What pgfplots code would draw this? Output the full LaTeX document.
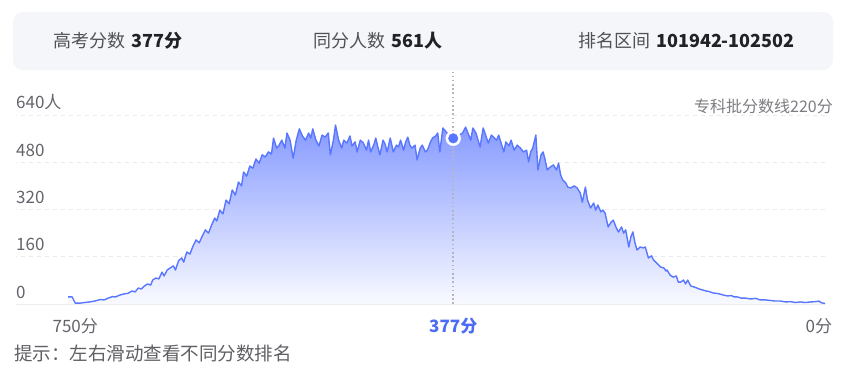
\documentclass[border=0pt]{standalone}
\usepackage{fontspec}
\setmainfont{Noto Sans CJK SC}
\usepackage{pgfplots}
\pgfplotsset{compat=1.18}
\usepackage{pgfplotstable}
\definecolor{panelbg}{RGB}{245,246,250}
\definecolor{textgray}{RGB}{80,80,86}
\definecolor{textdark}{RGB}{34,34,38}
\definecolor{tickgray}{RGB}{100,100,108}
\definecolor{notegray}{RGB}{125,125,130}
\definecolor{tipgray}{RGB}{95,95,100}
\definecolor{gridc}{RGB}{232,232,238}
\definecolor{basec}{RGB}{236,236,240}
\definecolor{lineblue}{RGB}{88,118,255}
\definecolor{filltop}{RGB}{134,154,255}
\definecolor{fillbot}{RGB}{249,250,255}
\definecolor{labelblue}{RGB}{77,108,245}
\definecolor{dotc}{RGB}{180,180,190}
\pgfplotstableread{
s v
750 24
746 24
743 3
738 3
734 5
729 7
724 10
719 15
715 14
711 20
707 25
704 24
700 30
696 34
692 36
688 44
685 41
682 54
679 51
676 61
673 68
670 64
668 81
665 88
662 85
659 108
657 95
654 115
651 122
648 129
646 115
643 146
640 156
638 142
635 176
632 169
629 196
626 217
623 207
620 230
617 251
614 240
611 267
608 291
606 281
603 318
600 305
597 352
594 339
591 386
588 369
585 413
582 400
580 447
577 433
574 467
571 460
568 491
565 477
562 505
559 498
556 515
553 508
551 562
548 528
546 535
543 555
540 528
538 579
535 555
532 494
529 555
526 593
523 569
520 555
517 579
515 562
513 593
510 555
507 535
504 572
501 565
498 579
496 505
493 555
491 606
488 555
485 528
483 555
480 545
477 569
475 535
472 549
470 515
467 555
464 545
461 521
459 555
457 515
454 538
452 562
450 532
448 505
445 555
443 542
441 515
438 562
435 515
432 538
430 532
428 555
425 521
423 549
421 565
419 538
417 528
414 538
412 488
409 528
407 538
404 515
402 521
399 549
397 562
394 569
392 579
390 515
387 596
383 579
380 565
377 561
374 545
371 572
368 579
365 599
362 572
360 555
358 596
355 579
353 555
351 532
348 596
345 565
343 545
340 572
338 565
335 555
333 572
330 538
328 515
326 549
323 535
321 555
318 521
315 538
312 528
309 515
306 521
304 481
302 515
300 528
297 572
295 454
292 505
290 515
288 488
286 454
283 464
280 471
277 454
275 477
273 437
271 420
268 410
266 396
263 393
260 400
257 393
254 376
252 345
249 396
247 352
244 325
241 342
239 318
237 335
234 312
232 318
230 308
227 261
224 278
222 284
219 257
217 244
214 261
212 240
210 251
207 193
205 227
203 244
201 207
199 183
196 193
193 190
191 193
188 156
185 163
183 149
181 142
178 132
176 125
173 122
171 112
170 115
167 98
164 91
161 95
159 74
157 74
154 81
152 68
150 81
147 61
144 58
141 54
139 51
135 47
132 44
129 42
125 37
122 36
119 34
115 30
111 27
108 29
105 24
102 24
98 20
94 20
89 17
84 19
80 14
75 14
70 12
65 10
60 10
55 7
50 8
46 5
41 7
36 5
31 7
26 8
23 10
21 5
18 2
17 2
}\scoredata
\newcommand\panelfont{\fontsize{18bp}{22bp}\selectfont}
\begin{document}
\begin{tikzpicture}[x=1bp,y=1bp]
\fill[white] (0,0) rectangle (843,381);
\useasboundingbox (0,0) rectangle (843,381);
\fill[panelbg, rounded corners=10bp] (13,311) rectangle (833,369);
\node[anchor=west, inner sep=0, font=\panelfont] at (53,340) {{\color{textgray}高考分数}\hspace{6bp}{\color{textdark}\bfseries 377分}};
\node[anchor=west, inner sep=0, font=\panelfont] at (313,340) {{\color{textgray}同分人数}\hspace{6bp}{\color{textdark}\bfseries 561人}};
\node[anchor=west, inner sep=0, font=\panelfont] at (578,340) {{\color{textgray}排名区间}\hspace{6bp}{\color{textdark}\bfseries 101942-102502}};
\begin{axis}[
  at={(16bp,77bp)}, anchor=south west,
  scale only axis, width=809bp, height=189bp,
  x dir=reverse, xmin=17, xmax=800.4, ymin=0, ymax=640,
  clip=false,
  axis line style={draw=none},
  major tick length=0pt,
  ytick={160,320,480,640},
  yticklabels={160,320,480,640人},
  extra y ticks={0}, extra y tick labels={0},
  extra y tick style={major grid style={solid, color=basec, line width=1bp}},
  ymajorgrids,
  major grid style={color=gridc, line width=0.9bp, dash pattern=on 4bp off 4bp},
  yticklabel style={anchor=base west, inner sep=0pt, yshift=6bp, text=tickgray, font=\fontsize{17bp}{20bp}\selectfont},
  xtick={743,377,23},
  xticklabels={750分,{\color{labelblue}\bfseries 377分},0分},
  xticklabel style={anchor=base, inner sep=0pt, yshift=-28bp, text=tickgray, font=\fontsize{17bp}{20bp}\selectfont},
]
\addplot[draw=none, top color=filltop, bottom color=fillbot] table[x=s, y=v] {\scoredata} \closedcycle;
\addplot[lineblue, line width=1.4bp, line join=round] table[x=s, y=v] {\scoredata};
\draw[dotc, line width=1.6bp, dash pattern=on 1.6bp off 2.6bp] (axis cs:377,0) -- (axis cs:377,786);
\addplot[color=white, only marks, mark=*, mark size=7.4bp, mark options={solid, fill=white, draw=white}] coordinates {(377,561)};
\addplot[color=lineblue, only marks, mark=*, mark size=4.8bp, mark options={solid, fill=lineblue, draw=lineblue}] coordinates {(377,561)};
\end{axis}
\node[anchor=east, inner sep=0, font=\fontsize{16bp}{19bp}\selectfont, text=notegray] at (833,275) {专科批分数线220分};
\node[anchor=west, inner sep=0, font=\fontsize{18.5bp}{21bp}\selectfont, text=tipgray] at (14,28) {提示：左右滑动查看不同分数排名};
\end{tikzpicture}
\end{document}
